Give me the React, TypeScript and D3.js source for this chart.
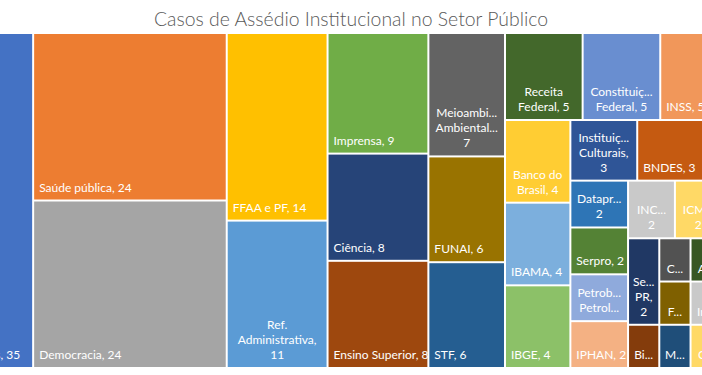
import React, { useMemo } from 'react';
import * as d3 from 'd3';

// ---------- data ----------
const categories: string[] = [
  'Servidores Públicos', 'Saúde pública', 'Democracia', 'FFAA e PF', 'Ref. Administrativa',
  'Imprensa', 'Ciência', 'Ensino Superior', 'Meioambiente Ambientalismo', 'FUNAI', 'STF',
  'Receita Federal', 'Constituição Federal', 'INSS', 'Educação', 'Banco do Brasil', 'IBAMA', 'IBGE',
  'Instituições Culturais', 'BNDES', 'Itamaraty', 'Anvisa', 'Dataprev', 'Serpro',
  'Petrobras Petroleiros', 'IPHAN', 'INCRA', 'ICMBio', 'Fiocruz', 'Capes', 'Secom PR',
  'Biblioteca Nacional', 'CGU', 'FNDE', 'MEC', 'Ancine', 'Embrapa', 'Correios', 'Ipea',
  'Inep', 'CNPq', 'Casa da Moeda', 'Arquivo Nacional', 'Anatel', 'Ebserh', 'Fundação Palmares', 'Caixa',
];
const values: number[] = [
  35, 24, 24, 14, 11, 9, 8, 8, 7, 6, 6,
  5, 5, 5, 5, 4, 4, 4,
  3, 3, 3, 2, 2, 2, 2, 2, 2, 2, 2, 2, 2,
  1, 1, 1, 1, 1, 1, 1, 1, 1, 1, 1, 1, 1, 1, 1, 1,
];
const palette: string[] = [
  '#4472C4', '#ED7D31', '#A5A5A5', '#FFC000', '#5B9BD5', '#70AD47',
  '#264478', '#9E480E', '#636363', '#997300', '#255E91', '#43682B',
  '#698ED0', '#F1975A', '#B7B7B7', '#FFCD33', '#7CAFDD', '#8CC168',
  '#2F5597', '#C55A11', '#7B7B7B', '#BF9000', '#2E75B6', '#548235',
  '#8FAADC', '#F4B183', '#C9C9C9', '#FFD966', '#9DC3E6', '#A9D18E',
  '#203864', '#843C0C', '#525252', '#7F6000', '#1F4E79', '#385723',
  '#DAE3F3', '#FBE5D6', '#EDEDED', '#C9C9C9', '#FFD966', '#E2F0D9',
  '#4472C4', '#ED7D31', '#A5A5A5', '#FFC000', '#5B9BD5',
];
const TITLE = 'Casos de Assédio Institucional no Setor Público';

// ---------- layout constants ----------
const WIDTH = 702;
const HEIGHT = 375;
const PLOT_LEFT = -108;
const PLOT_TOP = 33;
const PLOT_HEIGHT = 335;
const UNIT_AREA = 1351; // px² per case
const HALF_GAP = 1;
const FONT = 'Lato, Carlito, "Noto Sans", sans-serif';
const LABEL_SIZE = 12;
const LINE_H = 15;
const PAD_X = 5;
const FIT_PAD = 0.5; // single-line fit
const CUT_PAD_MAX = 5; // wrapped lines
const CUT_PAD_FRAC = 0.12;
const PAD_BOTTOM = 8;
const V_PAD = 12;
const T_COL = 1.26;
const T_ROW = 1.45;
const ROW_BIAS = 1.01;

// Excel-like strip tiling: strips along the shorter side, filled while tiles stay near-square
function excelTile(parent: any, x0: number, y0: number, x1: number, y1: number) {
  const nodes = parent.children;
  const n = nodes.length;
  let value = parent.value;
  let i0 = 0;
  while (i0 < n) {
    const dx = x1 - x0;
    const dy = y1 - y0;
    const asRow = dx <= dy * ROW_BIAS;
    const length = asRow ? dx : dy;
    const thr = asRow ? T_ROW : T_COL;
    const area = dx * dy;
    let sum = nodes[i0].value;
    let i1 = i0 + 1;
    for (; i1 < n; i1++) {
      const s = sum + nodes[i1].value;
      const thickness = (area * s) / value / length;
      const minLen = (length * nodes[i1].value) / s;
      if (thickness / minLen > thr) break;
      sum = s;
    }
    const row: any = { children: nodes.slice(i0, i1), value: sum };
    if (asRow) {
      const ny = i1 >= n ? y1 : y0 + (dy * sum) / value;
      d3.treemapDice(row, x0, y0, x1, ny);
      y0 = ny;
    } else {
      const nx = i1 >= n ? x1 : x0 + (dx * sum) / value;
      d3.treemapSlice(row, x0, y0, nx, y1);
      x0 = nx;
    }
    value -= sum;
    i0 = i1;
  }
}

let ctx: CanvasRenderingContext2D | null = null;
function measure(s: string): number {
  if (!ctx) ctx = document.createElement('canvas').getContext('2d');
  if (!ctx) return s.length * 6;
  ctx.font = `${LABEL_SIZE}px ${FONT}`;
  return ctx.measureText(s).width;
}
// a trailing comma may hang into the padding
function lineWidth(s: string): number {
  return measure(s.endsWith(',') ? s.slice(0, -1) : s);
}
function fitLine(line: string, avail: number): string {
  if (lineWidth(line) <= avail) return line;
  for (let k = line.length - 1; k >= 1; k--) {
    const s = line.slice(0, k).trimEnd() + '...';
    if (measure(s) <= avail) return s;
  }
  return line[0] + '...';
}
function wrapLabel(text: string, avail: number): string[] {
  const words = text.split(' ');
  const lines: string[] = [];
  let cur = '';
  for (const w of words) {
    const cand = cur ? cur + ' ' + w : w;
    if (lineWidth(cand) <= avail) cur = cand;
    else {
      if (cur) lines.push(cur);
      cur = w;
    }
  }
  if (cur) lines.push(cur);
  return lines.map((l) => fitLine(l, avail));
}

export default function App() {
  const leaves = useMemo(() => {
    const items = categories.map((name, i) => ({ name, value: values[i], color: palette[i % palette.length] }));
    const total = d3.sum(values);
    const plotWidth = (total * UNIT_AREA) / PLOT_HEIGHT;
    const root = d3
      .hierarchy<any>({ name: 'root', children: items })
      .sum((d: any) => (d.children ? 0 : d.value))
      .sort((a: any, b: any) => (b.value as number) - (a.value as number));
    d3.treemap<any>().tile(excelTile as any).size([plotWidth, PLOT_HEIGHT]).round(false)(root);
    return root.leaves().map((l: any) => {
      const x0 = PLOT_LEFT + l.x0 + HALF_GAP;
      const y0 = PLOT_TOP + l.y0 + HALF_GAP;
      const x1 = PLOT_LEFT + l.x1 - HALF_GAP;
      const y1 = PLOT_TOP + l.y1 - HALF_GAP;
      const w = x1 - x0;
      const h = y1 - y0;
      const full = `${l.data.name}, ${l.data.value}`;
      let lines: string[];
      let single = false;
      if (measure(full) <= w - 2 * FIT_PAD) {
        lines = [full];
        single = true;
      } else {
        const pad = Math.min(CUT_PAD_MAX, CUT_PAD_FRAC * w);
        lines = wrapLabel(full, w - 2 * pad);
      }
      const maxLines = Math.max(0, Math.floor((h - V_PAD) / LINE_H));
      lines = lines.slice(0, maxLines);
      return { ...l.data, x0, y0, x1, y1, w, h, lines, single };
    });
  }, []);

  return (
    <svg
      width={WIDTH}
      height={HEIGHT}
      style={{ position: 'absolute', left: 0, top: 0, background: '#ffffff', display: 'block' }}
      fontFamily={FONT}
    >
      <rect x={0} y={0} width={WIDTH} height={HEIGHT} fill="#ffffff" />
      <text x={WIDTH / 2} y={25.5} textAnchor="middle" fontSize={19.4} fontWeight={300} fill="#595959">
        {TITLE}
      </text>
      {leaves.map((t: any, i: number) => (
        <g key={i}>
          <rect x={t.x0} y={t.y0} width={Math.max(0, t.w)} height={Math.max(0, t.h)} fill={t.color} />
          {t.lines.map((line: string, j: number) => {
            const baseline = t.y1 - PAD_BOTTOM - (t.lines.length - 1 - j) * LINE_H;
            return (
              <text
                key={j}
                x={t.single ? t.x0 + PAD_X : (t.x0 + t.x1) / 2}
                y={baseline}
                textAnchor={t.single ? 'start' : 'middle'}
                fontSize={LABEL_SIZE}
                fill="#ffffff"
              >
                {line}
              </text>
            );
          })}
        </g>
      ))}
    </svg>
  );
}
